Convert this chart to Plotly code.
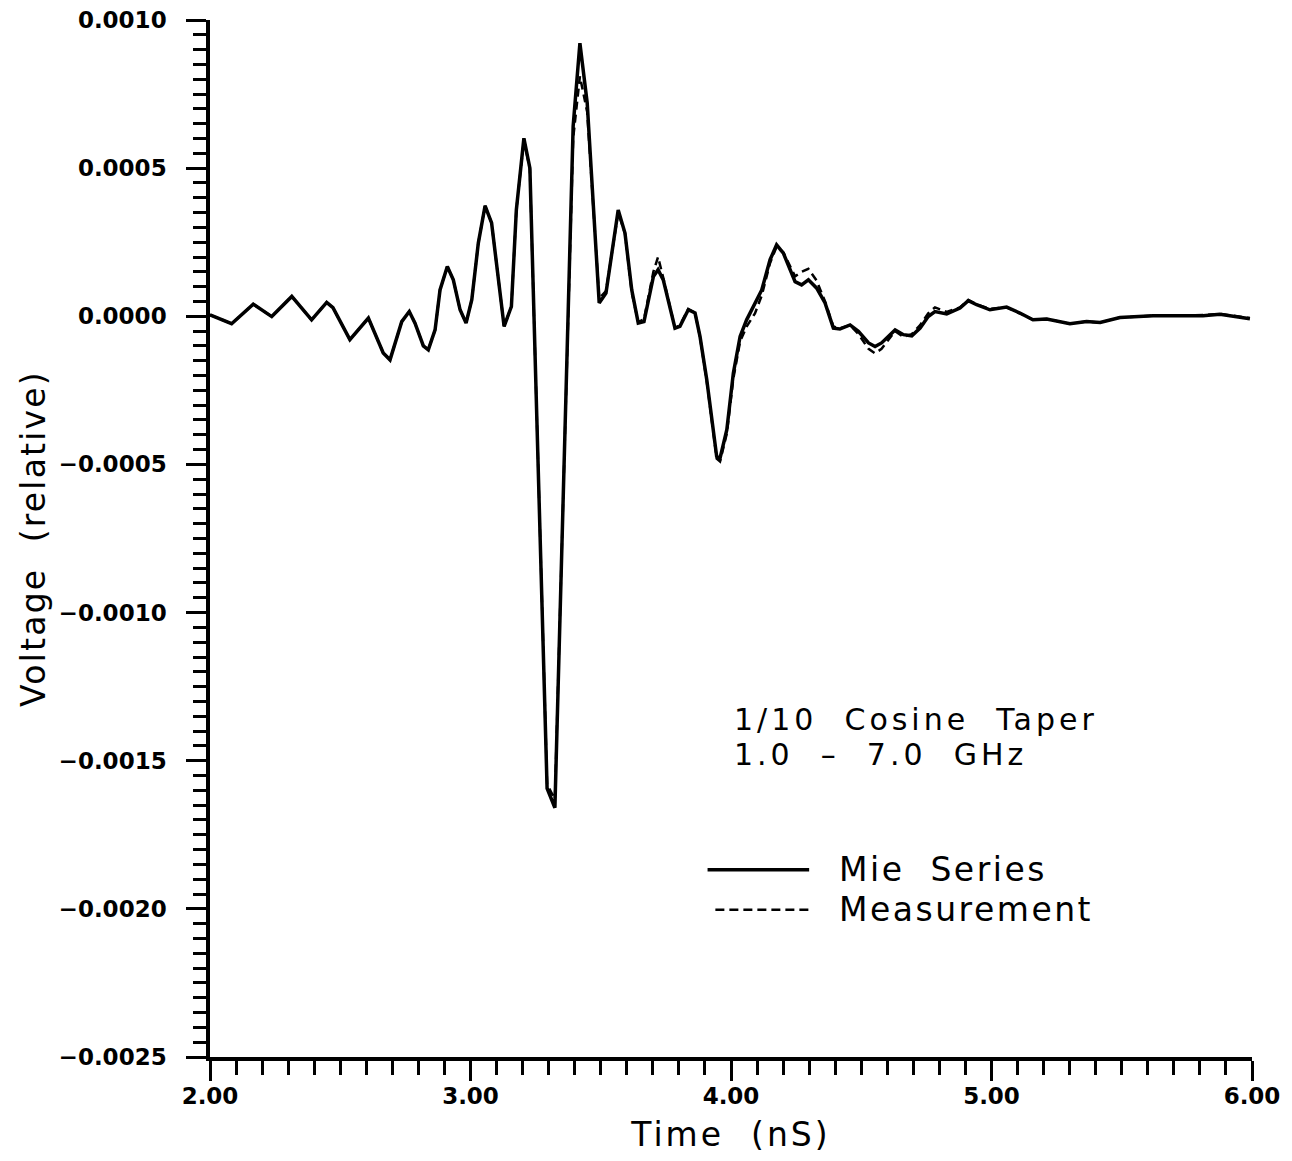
import plotly.graph_objects as go

# Time samples (nS)
time_ns = [2.000, 2.083, 2.166, 2.237, 2.314, 2.390, 2.448, 2.472, 2.537, 2.608,
           2.665, 2.691, 2.736, 2.765, 2.787, 2.819, 2.838, 2.864, 2.883, 2.911,
           2.934, 2.960, 2.983, 3.005, 3.030, 3.056, 3.081, 3.107, 3.129, 3.157,
           3.176, 3.205, 3.228, 3.294, 3.324, 3.394, 3.420, 3.448, 3.494, 3.520,
           3.567, 3.593, 3.619, 3.644, 3.666, 3.702, 3.720, 3.740, 3.785, 3.804,
           3.836, 3.862, 3.881, 3.907, 3.932, 3.945, 3.958, 3.984, 4.009, 4.035,
           4.060, 4.092, 4.118, 4.150, 4.175, 4.201, 4.246, 4.271, 4.297, 4.329,
           4.361, 4.393, 4.418, 4.457, 4.489, 4.528, 4.553, 4.578, 4.630, 4.662,
           4.694, 4.726, 4.757, 4.783, 4.828, 4.879, 4.911, 4.943, 4.994, 5.058,
           5.109, 5.159, 5.212, 5.301, 5.365, 5.417, 5.493, 5.620, 5.711, 5.812,
           5.877, 5.992]

# Mie Series (units of 1e-3, relative voltage)
mie_series = [0.005, -0.025, 0.041, -0.001, 0.067, -0.012, 0.047, 0.029, -0.079, -0.006,
              -0.124, -0.147, -0.018, 0.016, -0.023, -0.100, -0.113, -0.046, 0.089, 0.168,
              0.123, 0.022, -0.023, 0.056, 0.247, 0.373, 0.315, 0.134, -0.034, 0.033,
              0.359, 0.601, 0.500, -1.593, -1.659, 0.641, 0.922, 0.720, 0.045, 0.078,
              0.359, 0.281, 0.089, -0.023, -0.018, 0.134, 0.157, 0.123, -0.040, -0.034,
              0.022, 0.011, -0.068, -0.214, -0.383, -0.473, -0.479, -0.383, -0.192, -0.068,
              -0.012, 0.045, 0.089, 0.191, 0.241, 0.213, 0.117, 0.106, 0.123, 0.095,
              0.045, -0.040, -0.043, -0.029, -0.051, -0.090, -0.102, -0.090, -0.046, -0.062,
              -0.066, -0.040, -0.001, 0.016, 0.008, 0.028, 0.053, 0.039, 0.022, 0.031,
              0.011, -0.012, -0.009, -0.025, -0.018, -0.021, -0.004, 0.002, 0.003, 0.002,
              0.007, -0.008]

# Measurement (units of 1e-3, relative voltage)
measurement = [0.005, -0.025, 0.041, -0.001, 0.067, -0.012, 0.047, 0.029, -0.079, -0.006,
               -0.124, -0.147, -0.018, 0.016, -0.023, -0.100, -0.113, -0.046, 0.089, 0.168,
               0.123, 0.022, -0.023, 0.056, 0.247, 0.373, 0.315, 0.134, -0.034, 0.033,
               0.359, 0.595, 0.495, -1.580, -1.630, 0.600, 0.810, 0.690, 0.060, 0.085,
               0.350, 0.280, 0.080, -0.020, -0.010, 0.150, 0.200, 0.130, -0.040, -0.030,
               0.025, 0.012, -0.070, -0.220, -0.390, -0.480, -0.490, -0.395, -0.210, -0.085,
               -0.035, 0.010, 0.070, 0.180, 0.235, 0.215, 0.135, 0.150, 0.160, 0.120,
               0.050, -0.035, -0.040, -0.030, -0.060, -0.110, -0.125, -0.110, -0.050, -0.070,
               -0.060, -0.030, 0.010, 0.030, 0.015, 0.030, 0.055, 0.040, 0.025, 0.030,
               0.010, -0.012, -0.009, -0.025, -0.018, -0.021, -0.004, 0.002, 0.003, 0.004,
               0.008, -0.006]

x_ticks = [2, 3, 4, 5, 6]
x_tick_labels = ["2.00", "3.00", "4.00", "5.00", "6.00"]
y_ticks = [0.0010, 0.0005, 0.0, -0.0005, -0.0010, -0.0015, -0.0020, -0.0025]
y_tick_labels = ["0.0010", "0.0005", "0.0000", "\u22120.0005", "\u22120.0010",
                 "\u22120.0015", "\u22120.0020", "\u22120.0025"]

series_names = ["Mie Series", "Measurement"]
note_lines = ["1/10 Cosine Taper", "1.0 \u2013 7.0 GHz"]
x_title = "Time (nS)"
y_title = "Voltage (relative)"

scale = 1e-3
mie_v = [v * scale for v in mie_series]
meas_v = [v * scale for v in measurement]

fig = go.Figure()
fig.add_trace(go.Scatter(x=time_ns, y=meas_v, mode="lines", name=series_names[1],
                         line=dict(color="black", width=2.5, dash="8px,5px")))
fig.add_trace(go.Scatter(x=time_ns, y=mie_v, mode="lines", name=series_names[0],
                         line=dict(color="black", width=3.5)))


def spaced(s, ls):
    s = s.replace(" ", "\u00a0\u00a0")
    return '<span style="letter-spacing:%spx">%s</span>' % (ls, s)


FAM = "DejaVu Sans, Verdana, sans-serif"
note_font = dict(family=FAM, size=30, color="black")
leg_font = dict(family=FAM, size=33, color="black")

# Annotation text block
fig.add_annotation(x=4.003, y=-0.00136, xref="x", yref="y", text=spaced(note_lines[0], 4),
                   showarrow=False, xanchor="left", yanchor="middle", font=note_font)
fig.add_annotation(x=4.003, y=-0.00148, xref="x", yref="y", text=spaced(note_lines[1], 4),
                   showarrow=False, xanchor="left", yanchor="middle", font=note_font)

# Hand-drawn legend
fig.add_shape(type="line", xref="x", yref="y", x0=3.91, x1=4.30, y0=-0.001868, y1=-0.001868,
              line=dict(color="black", width=3.5))
fig.add_shape(type="line", xref="x", yref="y", x0=3.94, x1=4.30, y0=-0.002003, y1=-0.002003,
              line=dict(color="black", width=2.5, dash="9px,5px"))
fig.add_annotation(x=4.405, y=-0.001868, xref="x", yref="y", text=spaced(series_names[0], 2.5),
                   showarrow=False, xanchor="left", yanchor="middle", font=leg_font)
fig.add_annotation(x=4.405, y=-0.002003, xref="x", yref="y", text=spaced(series_names[1], 2.5),
                   showarrow=False, xanchor="left", yanchor="middle", font=leg_font)

tick_font = dict(family="DejaVu Sans, sans-serif", size=23, color="black", weight="bold")

# The page body adds an 8px offset, so the figure is sized to fill the rest of the window.
fig.update_layout(
    width=1284, height=1153,
    margin=dict(l=202, r=40, t=12, b=104),
    paper_bgcolor="white", plot_bgcolor="white",
    showlegend=False,
    xaxis=dict(range=[2, 6], tickvals=x_ticks, ticktext=x_tick_labels, automargin=False,
               ticklabeloverflow="allow", ticklabelstandoff=-4,
               ticks="outside", ticklen=20, tickwidth=3, tickcolor="black",
               showline=True, linewidth=3.5, linecolor="black", showgrid=False,
               zeroline=False, tickfont=tick_font,
               minor=dict(dtick=0.1, tick0=2, ticks="outside", ticklen=14,
                          tickwidth=3, tickcolor="black", showgrid=False),
               title=dict(text=spaced(x_title, 3), font=leg_font, standoff=16)),
    yaxis=dict(range=[-0.0025, 0.0010], tickvals=y_ticks, ticktext=y_tick_labels,
               automargin=False, ticklabelstandoff=15, ticklabeloverflow="allow",
               ticks="outside", ticklen=20, tickwidth=3, tickcolor="black",
               showline=True, linewidth=3.5, linecolor="black", showgrid=False,
               zeroline=False, tickfont=tick_font,
               minor=dict(dtick=0.00005, tick0=0, ticks="outside", ticklen=13,
                          tickwidth=3, tickcolor="black", showgrid=False),
               title=dict(text=spaced(y_title, 2.2), font=leg_font, standoff=4)),
)

fig.write_html("out.html")
